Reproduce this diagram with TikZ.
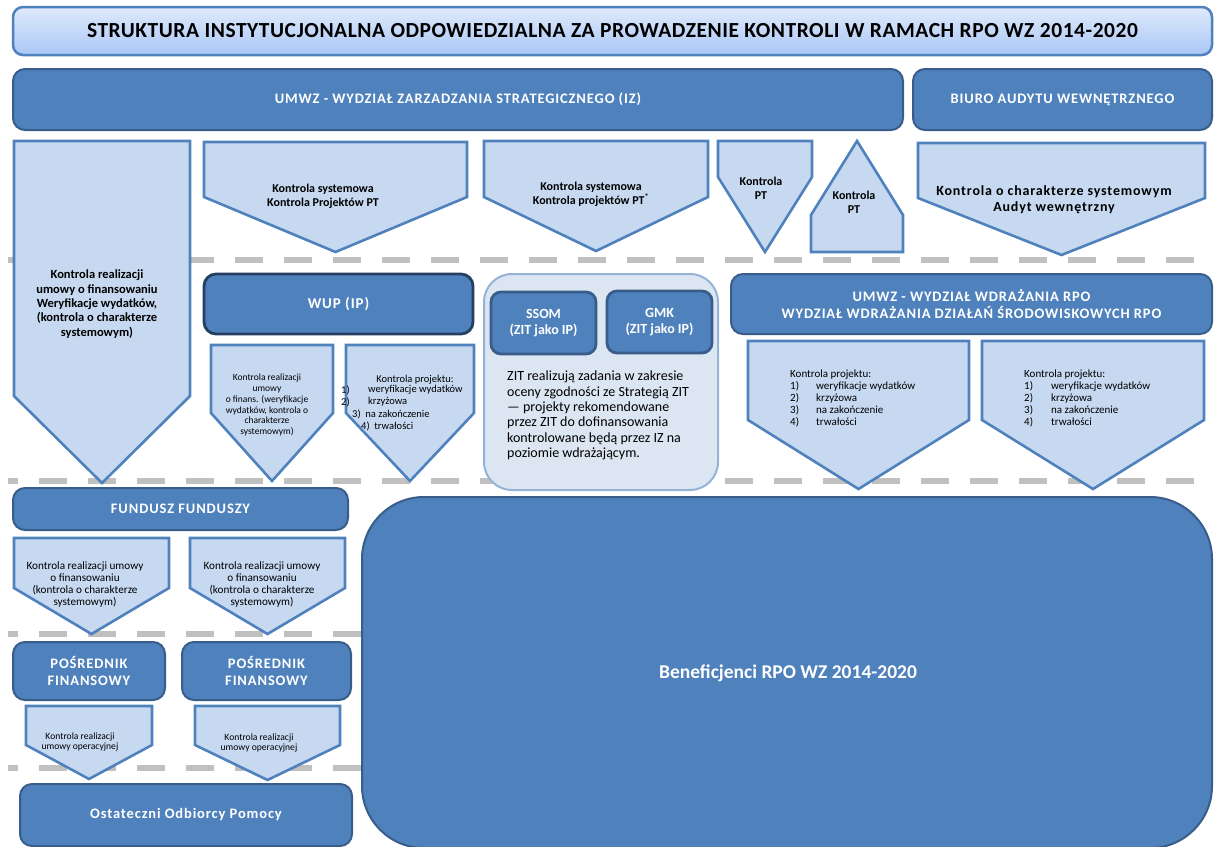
\documentclass[tikz,border=0pt]{standalone}
\usepackage{fontspec}
\setmainfont{Carlito}
\newfontfamily\unitfont{Carlito}[LetterSpace=6]
\newfontfamily\titlefont{Carlito}[LetterSpace=2.5]
\definecolor{unitfill}{HTML}{4F81BD}
\definecolor{unitline}{HTML}{385D8A}
\definecolor{wupline}{HTML}{243F60}
\definecolor{pentfill}{HTML}{C6D9F1}
\definecolor{zitfill}{HTML}{DCE6F2}
\definecolor{zitline}{HTML}{95B3D7}
\definecolor{sepgray}{HTML}{C0C0C0}
\definecolor{titletop}{HTML}{DFEAFC}
\definecolor{titlebot}{HTML}{A9C7F5}
\newcommand{\fsz}[1]{\fontsize{#1}{1.15\dimexpr#1pt\relax}\selectfont}
% arrow shape pointing down: left, right, top, shoulder, tip
\newcommand{\pentdown}[5]{%
  \filldraw[pent] (#1,#3) -- (#2,#3) -- (#2,#4) -- ({(#1+#2)/2},#5) -- (#1,#4) -- cycle;}

\begin{document}
\begin{tikzpicture}[x=1pt,y=-1pt,
  pent/.style={fill=pentfill,draw=unitfill,line width=2.6pt,line join=miter},
  unit/.style={rounded corners=12pt,fill=unitfill,draw=unitline,line width=2pt,
    text=white,align=center,inner sep=0pt,font=\unitfont\fsz{14.5}\bfseries},
  sep/.style={draw=sepgray,line width=6pt,dash pattern=on 28pt off 21pt,dash phase=18pt},
  ctl/.style={text=black,align=center,inner sep=0pt},
  ]
  \useasboundingbox (0,0) rectangle (1214,846);
  \clip (0,0) rectangle (1214,846);

  % level separators
  \draw[sep] (8,260) -- (1195,260);
  \draw[sep] (8,481) -- (1195,481);
  \draw[sep] (8,634) -- (362,634);
  \draw[sep] (8,768) -- (362,768);

  % title
  \node[rounded corners=10pt,top color=titletop,bottom color=titlebot,draw=unitfill,
    line width=2.5pt,minimum width=1199pt,minimum height=48pt,inner sep=0pt,
    font=\titlefont\fsz{21.5}\bfseries] (title) at (612.5,31)
    {STRUKTURA INSTYTUCJONALNA ODPOWIEDZIALNA ZA PROWADZENIE KONTROLI W RAMACH RPO WZ 2014-2020};

  % top level
  \node[unit,minimum width=890pt,minimum height=61pt] (iz) at (458,99.5)
    {UMWZ - WYDZIAŁ ZARZADZANIA STRATEGICZNEGO (IZ)};
  \node[unit,minimum width=299pt,minimum height=61pt] (biuro) at (1062.5,99.5)
    {BIURO AUDYTU WEWNĘTRZNEGO};

  % controls of IZ
  \pentdown{14}{190}{141}{396}{483}
  \node[ctl,font=\fsz{12.5}\bfseries] (kiz) at (97,304)
    {Kontrola realizacji\\umowy o finansowaniu\\Weryfikacje wydatków,\\(kontrola o charakterze\\systemowym)};
  \pentdown{204}{467}{142}{197}{252}
  \node[ctl,font=\fsz{12}\bfseries] (kwup) at (323,196)
    {Kontrola systemowa\\Kontrola Projektów PT};
  \pentdown{484}{708}{141}{197}{251}
  \node[ctl,font=\fsz{12}\bfseries] (kzit) at (591,194)
    {Kontrola systemowa\\Kontrola projektów PT\textsuperscript{*}};
  \pentdown{718}{812}{141}{177}{252}
  \node[ctl,font=\fsz{12}\bfseries] (kpt) at (761,188) {Kontrola\\PT};
  \filldraw[pent] (811,252) -- (903,252) -- (903,215) -- (857,141) -- (811,215) -- cycle;
  \node[ctl,font=\fsz{12}\bfseries] (kpt2) at (854,202) {Kontrola\\PT};
  \pentdown{918}{1205}{143}{198}{255}
  \node[ctl,font=\unitfont\fsz{14}\bfseries] (kaud) at (1054,200)
    {Kontrola o charakterze systemowym\\Audyt wewnętrzny};

  % WUP
  \node[unit,draw=wupline,line width=2.8pt,font=\unitfont\fsz{15}\bfseries,
    minimum width=269pt,minimum height=60pt] (wup) at (338.5,304) {WUP (IP)};
  \pentdown{211}{333}{345}{413}{481}
  \node[ctl,font=\fsz{9.5}] (kwup1) at (267,405)
    {Kontrola realizacji\\umowy\\o finans. (weryfikacje\\wydatków,  kontrola o\\charakterze\\systemowym)};
  \pentdown{346}{474}{345}{413}{481}
  \begin{scope}
    \clip (330,345) rectangle (461,440);
    \node[ctl,font=\fsz{10.5}] (kwup2) at (415,380) {Kontrola projektu:};
    \node[ctl,font=\fsz{10.5},anchor=west] (w1) at (341,390) {1)};
    \node[ctl,font=\fsz{10.5},anchor=west] (w1t) at (368,390) {weryfikacje wydatków};
    \node[ctl,font=\fsz{10.5},anchor=west] (w2) at (341,402) {2)};
    \node[ctl,font=\fsz{10.5},anchor=west] (w2t) at (368,402) {krzyżowa};
    \node[ctl,font=\fsz{10.5},anchor=west] (w3) at (352,414) {3)\ \ na zakończenie};
    \node[ctl,font=\fsz{10.5},anchor=west] (w4) at (361,426) {4)\ \ trwałości};
  \end{scope}

  % ZIT
  \node[rounded corners=28pt,fill=zitfill,draw=zitline,line width=2pt,
    minimum width=234pt,minimum height=216pt] (zit) at (601,382) {};
  \node[unit,rounded corners=10pt,line width=2.8pt,font=\fsz{14}\bfseries,
    minimum width=105pt,minimum height=62pt] (ssom) at (543.5,323) {SSOM\\(ZIT jako IP)};
  \node[unit,rounded corners=10pt,line width=2.8pt,font=\fsz{14}\bfseries,
    minimum width=105pt,minimum height=62pt] (gmk) at (659.5,322) {GMK\\(ZIT jako IP)};
  \node[anchor=north west,align=left,inner sep=0pt,font=\fontsize{14}{15.3}\selectfont]
    (zittxt) at (507,371)
    {ZIT realizują zadania w zakresie\\oceny zgodności ze Strategią ZIT\\— projekty rekomendowane\\przez ZIT do dofinansowania\\kontrolowane będą przez IZ na\\poziomie wdrażającym.};

  % UMWZ implementation
  \node[unit,minimum width=481pt,minimum height=60pt] (wdr) at (971.5,304)
    {UMWZ - WYDZIAŁ WDRAŻANIA RPO\\WYDZIAŁ WDRAŻANIA DZIAŁAŃ ŚRODOWISKOWYCH RPO};
  \pentdown{748}{969}{341}{420}{489}
  \node[ctl,anchor=north west,align=left,font=\fontsize{11}{12}\selectfont] (kwdr1) at (790,369)
    {\begin{tabular}{@{}p{26pt}@{}l@{}}
     \multicolumn{2}{@{}l}{Kontrola projektu:}\\
     1) & weryfikacje wydatków\\ 2) & krzyżowa\\ 3) & na zakończenie\\ 4) & trwałości
     \end{tabular}};
  \pentdown{982}{1204}{341}{420}{489}
  \node[ctl,anchor=north west,align=left,font=\fontsize{11}{12}\selectfont] (kwdr2) at (1024,369)
    {\begin{tabular}{@{}p{27pt}@{}l@{}}
     \multicolumn{2}{@{}l}{Kontrola projektu:}\\
     1) & weryfikacje wydatków\\ 2) & krzyżowa\\ 3) & na zakończenie\\ 4) & trwałości
     \end{tabular}};

  % financial instruments
  \node[unit,minimum width=335pt,minimum height=42pt] (ff) at (180.5,509) {FUNDUSZ FUNDUSZY};
  \pentdown{14}{169}{538}{588}{634}
  \node[ctl,font=\fontsize{11.2}{12}\selectfont] (kff1) at (85,585)
    {Kontrola realizacji umowy\\o finansowaniu\\(kontrola o charakterze\\systemowym)};
  \pentdown{190}{345}{538}{588}{634}
  \node[ctl,font=\fontsize{11.2}{12}\selectfont] (kff2) at (262,585)
    {Kontrola realizacji umowy\\o finansowaniu\\(kontrola o charakterze\\systemowym)};
  \node[unit,minimum width=152pt,minimum height=58pt] (pf1) at (89,671) {POŚREDNIK\\FINANSOWY};
  \node[unit,minimum width=169pt,minimum height=58pt] (pf2) at (266.5,671) {POŚREDNIK\\FINANSOWY};
  \pentdown{26}{152}{706}{745}{779}
  \node[ctl,font=\fontsize{9.6}{10}\selectfont] (kpf1) at (80,742)
    {Kontrola realizacji\\umowy operacyjnej};
  \pentdown{195}{340}{706}{745}{780}
  \node[ctl,font=\fontsize{9.6}{10}\selectfont] (kpf2) at (259,743)
    {Kontrola realizacji\\umowy operacyjnej};
  \node[unit,minimum width=332pt,minimum height=62pt] (oop) at (186,815)
    {Ostateczni Odbiorcy Pomocy};

  % beneficiaries
  \draw[rounded corners=62pt,fill=unitfill,draw=unitline,line width=2pt]
    (362,497) rectangle (1212,848);
  \node[text=white,font=\fsz{19.5}\bfseries] (ben) at (788,673) {Beneficjenci RPO WZ 2014-2020};
\end{tikzpicture}
\end{document}
